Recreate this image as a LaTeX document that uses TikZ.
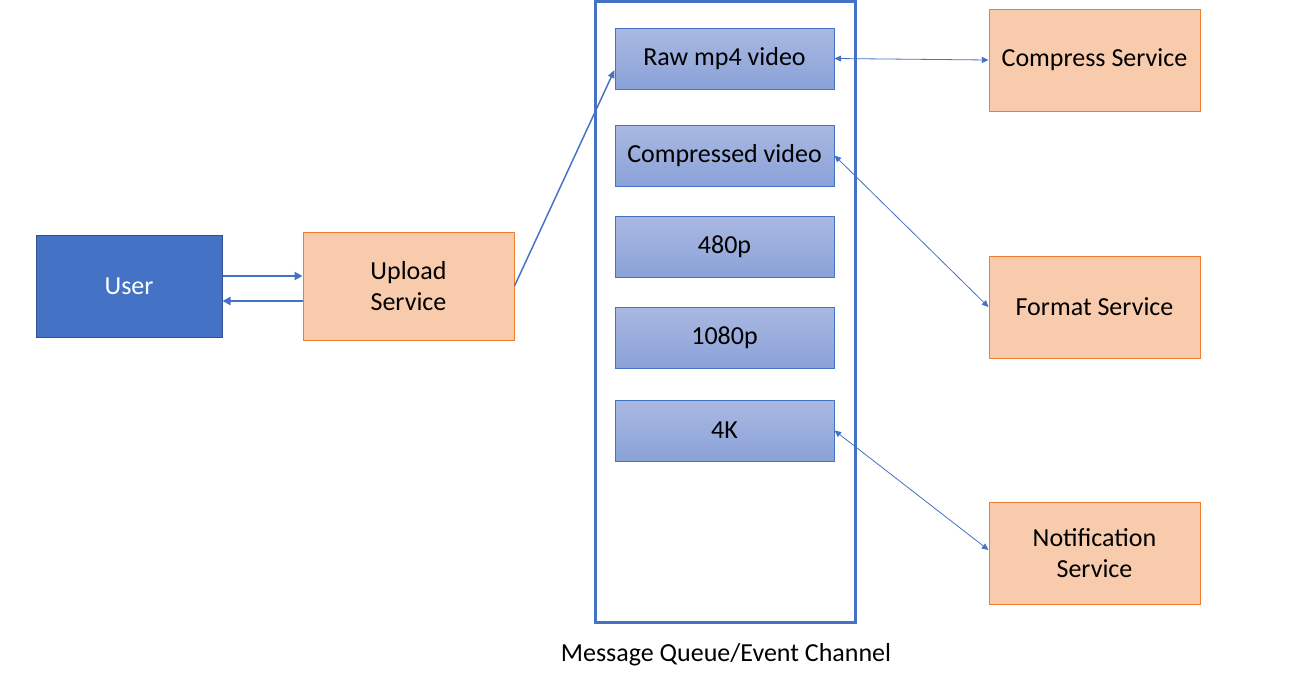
\documentclass[tikz,border=0pt]{standalone}
\usepackage{fontspec}
\setmainfont{Carlito}
\usepackage{tikz}
\usetikzlibrary{arrows.meta}
\definecolor{userfill}{HTML}{4472C4}
\definecolor{userline}{HTML}{2F528F}
\definecolor{svcfill}{HTML}{F8CBAD}
\definecolor{svcline}{HTML}{ED7D31}
\definecolor{topictop}{HTML}{AAB8E2}
\definecolor{topicbot}{HTML}{8AA2D8}
\definecolor{qline}{HTML}{4472C4}

\begin{document}
\begin{tikzpicture}[
  x=0.75pt, y=-0.75pt,
  every node/.style={font=\fontsize{19.5}{23.4}\selectfont, inner sep=0pt},
  client/.style={
    draw=userline, fill=userfill, line width=0.75pt, text=white,
    minimum width=139.5pt, minimum height=76.5pt,
  },
  service/.style={
    draw=svcline, fill=svcfill, line width=0.75pt, align=center,
    minimum width=158.25pt, minimum height=76.5pt,
  },
  topic/.style={
    draw=qline, top color=topictop, bottom color=topicbot, line width=0.75pt,
    minimum width=164.25pt, minimum height=45.75pt,
  },
  channel/.style={
    draw=qline, line width=2.25pt,
    minimum width=195pt, minimum height=465.75pt,
  },
  fatarrow/.style={-{Triangle[length=6pt, width=6pt]}, line width=1.5pt, qline},
  arrow/.style={-{Triangle[length=6pt, width=5pt]}, line width=1.1pt, qline},
  duplex/.style={{Triangle[length=5pt, width=4.5pt]}-{Triangle[length=5pt, width=4.5pt]}, line width=0.6pt, qline},
]
  \useasboundingbox (0,0) rectangle (1294,686);

  \node[client]  (user)   at (129, 286)   {User};
  \node[service, minimum height=81pt] (upload) at (408.5, 286) {Upload\\Service};

  \node[channel] (queue)  at (725, 311.5) {};
  \node (qlabel) at (726, 655) {Message Queue/Event Channel};

  \node[topic] (raw)   at (724.5, 58.5)  {Raw mp4 video};
  \node[topic] (comp)  at (724.5, 155.5) {Compressed video};
  \node[topic] (sd)    at (724.5, 246.5) {480p};
  \node[topic] (hd)    at (724.5, 337.5) {1080p};
  \node[topic] (uhd)   at (724.5, 430.5) {4K};

  \node[service] (compress) at (1094.5, 60)  {Compress Service};
  \node[service] (format)   at (1094.5, 307) {Format Service};
  \node[service] (notify)   at (1094.5, 553) {Notification\\Service};

  \draw[fatarrow] (user.east |- 0,276) -- (upload.west |- 0,276);
  \draw[fatarrow] (upload.west |- 0,301) -- (user.east |- 0,301);

  \draw[arrow] (upload.east) -- ([yshift=-8.6pt]raw.west);

  \draw[duplex] (raw.east) -- (compress.west);
  \draw[duplex] (comp.east) -- (format.west);
  \draw[duplex] (uhd.east) -- ([yshift=2.25pt]notify.west);
\end{tikzpicture}
\end{document}
